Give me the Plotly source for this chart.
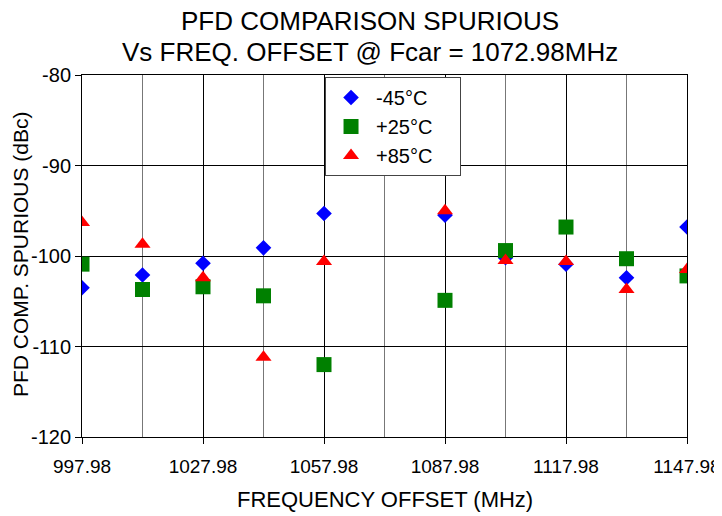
import plotly.graph_objects as go

freq = [997.98, 1012.98, 1027.98, 1042.98, 1057.98, 1087.98, 1102.98, 1117.98, 1132.98, 1147.98]
m45 = [-103.5, -102.1, -100.8, -99.1, -95.3, -95.5, -100.2, -100.9, -102.4, -96.8]
p25 = [-100.9, -103.7, -103.4, -104.4, -112.0, -104.9, -99.4, -96.8, -100.3, -102.2]
p85 = [-96.3, -98.7, -102.4, -111.2, -100.6, -95.0, -100.5, -100.6, -103.7, -101.5]
series_names = ["-45°C", "+25°C", "+85°C"]
x_ticks = [997.98, 1027.98, 1057.98, 1087.98, 1117.98, 1147.98]
y_ticks = [-120, -110, -100, -90, -80]
title_lines = ["PFD COMPARISON SPURIOUS", "Vs FREQ. OFFSET @ Fcar = 1072.98MHz"]
x_title = "FREQUENCY OFFSET (MHz)"
y_title = "PFD COMP. SPURIOUS (dBc)"

FONT = "Liberation Sans, Arial, sans-serif"
PAD = "\u00a0" * 4

fig = go.Figure()
fig.add_trace(go.Scatter(x=freq, y=m45, mode="markers", name=series_names[0] + PAD,
                         marker=dict(symbol="diamond", color="#0000FF", size=12)))
fig.add_trace(go.Scatter(x=freq, y=p25, mode="markers", name=series_names[1] + PAD,
                         marker=dict(symbol="square", color="#008000", size=15)))
fig.add_trace(go.Scatter(x=freq, y=p85, mode="markers", name=series_names[2] + PAD,
                         marker=dict(symbol="triangle-up", color="#FF0000", size=14)))

# page body has an 8px default margin, so the figure is offset by 8px in the window
fig.update_layout(
    width=722, height=508,
    margin=dict(l=74, r=43, t=67, b=79, autoexpand=False),
    paper_bgcolor="white", plot_bgcolor="white",
    font=dict(family=FONT, color="black", size=20),
    legend=dict(x=0.4017, y=0.9945, xanchor="left", yanchor="top",
                bgcolor="white", bordercolor="#444", borderwidth=1,
                font=dict(size=20, family=FONT), itemwidth=40),
    showlegend=True,
    annotations=[
        dict(text=title_lines[0], xref="paper", yref="paper", x=0.476, y=1.149,
             xanchor="center", yanchor="middle", showarrow=False,
             font=dict(size=26, family=FONT, color="black")),
        dict(text=title_lines[1], xref="paper", yref="paper", x=0.476, y=1.0635,
             xanchor="center", yanchor="middle", showarrow=False,
             font=dict(size=26, family=FONT, color="black")),
        dict(text=x_title, xref="paper", yref="paper", x=0.5, y=-0.174,
             xanchor="center", yanchor="middle", showarrow=False,
             font=dict(size=22, family=FONT, color="black")),
        dict(text=y_title, xref="paper", yref="paper", x=-0.1025, y=0.5055,
             xanchor="center", yanchor="middle", showarrow=False, textangle=-90,
             font=dict(size=21, family=FONT, color="black")),
    ],
)

fig.update_xaxes(
    range=[997.98, 1147.98], tickmode="array", tickvals=x_ticks,
    ticktext=[f"{v:.2f}" for v in x_ticks],
    showgrid=True, gridcolor="#000", gridwidth=1,
    minor=dict(tickmode="linear", tick0=997.98, dtick=15, showgrid=True,
               gridcolor="#777", gridwidth=1),
    ticks="outside", ticklen=6, tickcolor="black", ticklabelstandoff=6,
    ticklabeloverflow="allow",
    showline=True, linecolor="black", linewidth=1, mirror=True,
    zeroline=False, automargin=False,
    tickfont=dict(size=19, family=FONT),
)
fig.update_yaxes(
    range=[-120, -80], tickmode="array", tickvals=y_ticks,
    ticktext=[str(v) for v in y_ticks],
    showgrid=True, gridcolor="#000", gridwidth=1,
    ticks="outside", ticklen=6, tickcolor="black",
    showline=True, linecolor="black", linewidth=1, mirror=True,
    zeroline=False, automargin=False,
    tickfont=dict(size=20, family=FONT),
)

fig.write_html("out.html")
